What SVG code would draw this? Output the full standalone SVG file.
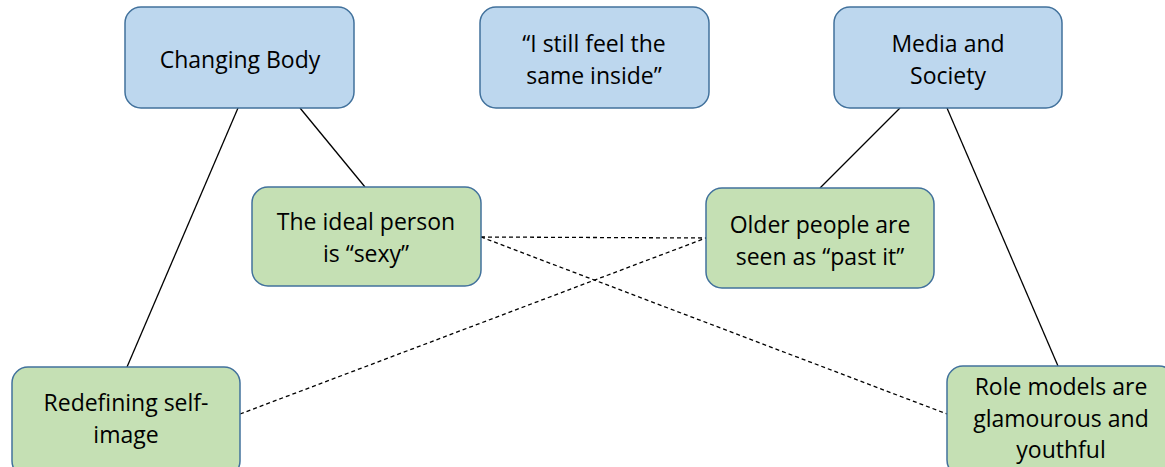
<svg xmlns="http://www.w3.org/2000/svg" width="1165" height="467" viewBox="0 0 1165 467">
<style>
.blue{fill:#BDD7EE;stroke:#41719C;stroke-width:1.5}
.green{fill:#C5E0B4;stroke:#41719C;stroke-width:1.5}
text{font-family:"Open Sans","Liberation Sans",sans-serif;font-size:23px;fill:#000;text-anchor:middle}
.solid{stroke:#000;stroke-width:1.3;fill:none}
.dash{stroke:#000;stroke-width:1.3;fill:none;stroke-dasharray:4 3}
</style>
<rect width="1165" height="467" fill="#fff"/>
<g id="connectors">
<line class="solid" x1="238" y1="108" x2="127" y2="367"/>
<line class="solid" x1="300" y1="108" x2="365" y2="187"/>
<line class="solid" x1="947" y1="108" x2="1058" y2="366"/>
<line class="solid" x1="900" y1="108" x2="820" y2="188"/>
<line class="dash" x1="481" y1="237" x2="706" y2="238"/>
<line class="dash" x1="481" y1="237" x2="947" y2="414"/>
<line class="dash" x1="240" y1="414" x2="706" y2="238"/>
</g>
<g id="changing-body">
<rect class="blue" x="125" y="7" width="229" height="101" rx="16"/>
<text x="240" y="68">Changing Body</text>
</g>
<g id="still-feel">
<rect class="blue" x="480" y="7" width="229" height="101" rx="16"/>
<text x="594" y="52">“I still feel the</text>
<text x="594" y="84">same inside”</text>
</g>
<g id="media-society">
<rect class="blue" x="834" y="7" width="228" height="101" rx="16"/>
<text x="948" y="52">Media and</text>
<text x="948" y="84">Society</text>
</g>
<g id="ideal-person">
<rect class="green" x="252" y="187" width="229" height="99" rx="16"/>
<text x="366" y="230">The ideal person</text>
<text x="366" y="262">is “sexy”</text>
</g>
<g id="older-people">
<rect class="green" x="706" y="188" width="228" height="100" rx="16"/>
<text x="820" y="233">Older people are</text>
<text x="820" y="265">seen as “past it”</text>
</g>
<g id="redefining">
<rect class="green" x="12" y="367" width="228" height="110" rx="16"/>
<text x="126" y="411">Redefining self-</text>
<text x="126" y="443">image</text>
</g>
<g id="role-models">
<rect class="green" x="947" y="366" width="228" height="110" rx="16"/>
<text x="1061" y="395">Role models are</text>
<text x="1061" y="427">glamourous and</text>
<text x="1061" y="458">youthful</text>
</g>
</svg>
